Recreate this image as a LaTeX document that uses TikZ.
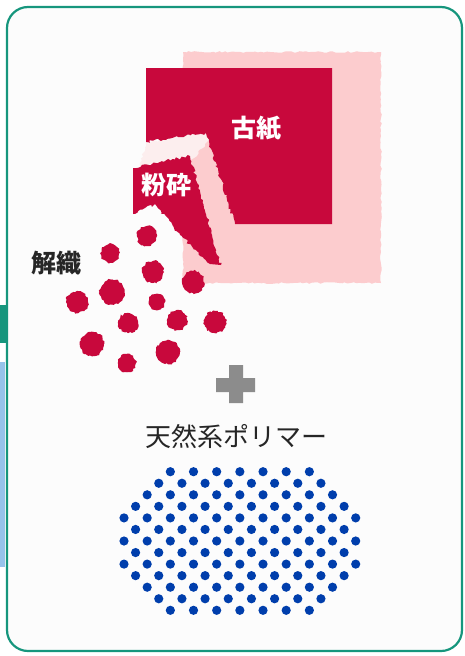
\documentclass[tikz,border=0pt]{standalone}
\usepackage{fontspec}
\newfontfamily\jp{Noto Sans CJK JP}
\usetikzlibrary{decorations.pathmorphing}
\definecolor{tealc}{RGB}{22,150,125}
\definecolor{redc}{RGB}{200,8,60}
\definecolor{pinkc}{RGB}{252,204,206}
\definecolor{palec}{RGB}{252,238,238}
\definecolor{bluec}{RGB}{0,62,172}
\definecolor{grayc}{RGB}{140,140,140}
\definecolor{bgc}{RGB}{252,252,252}
\definecolor{skyc}{RGB}{150,195,235}
\tikzset{
  torn/.style={decorate,decoration={random steps,segment length=2.5pt,amplitude=1.3pt}},
  rough/.style={decorate,decoration={random steps,segment length=3pt,amplitude=0.8pt}},
  blob/.style={fill=redc,decorate,decoration={random steps,segment length=2pt,amplitude=1.1pt}},
  dot/.style={fill=bluec},
  whitelabel/.style={text=white,font=\jp\bfseries\fontsize{25}{25}\selectfont,inner sep=0pt},
  blacklabel/.style={text=black!85,font=\jp\bfseries\fontsize{25}{25}\selectfont,inner sep=0pt},
}
\begin{document}
\begin{tikzpicture}[x=1pt,y=-1pt]
\useasboundingbox (0,0) rectangle (465,656);
% outside strips at left
\fill[tealc] (0,305) rectangle (6,343);
\fill[skyc] (0,362) rectangle (5,567);
% card
\draw[tealc,line width=2.2pt,fill=bgc,rounded corners=21pt] (7,7) rectangle (462,651);
% light pink sheet
\fill[pinkc,rough] (183,52) rectangle (381,283);
% pale tear fringe
\fill[palec,torn] (146,143) -- (207,129) -- (214,134) -- (194,158) -- (140,166) -- cycle;
% big dark paper with torn corner
\fill[redc] (146,68) -- (332,68) -- (332,224) -- (235,224)
   decorate[decoration={random steps,segment length=2.5pt,amplitude=1.5pt}]{-- (206,133) -- (178,137) -- (146,142)} -- cycle;
% crushed piece
\fill[redc] (133,168)
   decorate[decoration={random steps,segment length=2.5pt,amplitude=1.5pt}]{-- (160,162) -- (190,156) -- (200,190) -- (212,235) -- (221,265)}
   -- (210,264)
   decorate[decoration={random steps,segment length=2.5pt,amplitude=1.5pt}]{-- (180,235) -- (155,204) -- (133,214)} -- cycle;
% labels
\node[whitelabel] (kosi) at (256,128) {古紙};
\node[whitelabel] (funsai) at (166,185) {粉砕};
\node[blacklabel] (kaisen) at (56,263) {解織};
% fibre clumps
\foreach \x/\y/\r in {147/236/10,110/253/9.5,153/272/11,193/282/11,112/292/12.5,77/302/11,157/302/8,128/323/10,177/320/10,215/322/11,92/344/12,168/352/12,127/363/9}
  \fill[blob] (\x,\y) circle (\r);
% plus sign
\fill[grayc] (229,365) rectangle (243,403) (216,378) rectangle (255,392);
\node[text=black!85,font=\jp\fontsize{26}{26}\selectfont,inner sep=0pt] (polymer) at (236,437) {天然系ポリマー};
% polymer dots
\foreach \k/\n in {0/7,1/8,2/9,3/10,4/11,5/10,6/11,7/10,8/11,9/10,10/9,11/8,12/7}
  \foreach \i in {1,...,\n}
    \fill[dot] ({239.85+(\i-(\n+1)/2)*23.17},{471.7+\k*11.55}) circle (4.6);
\end{tikzpicture}
\end{document}
